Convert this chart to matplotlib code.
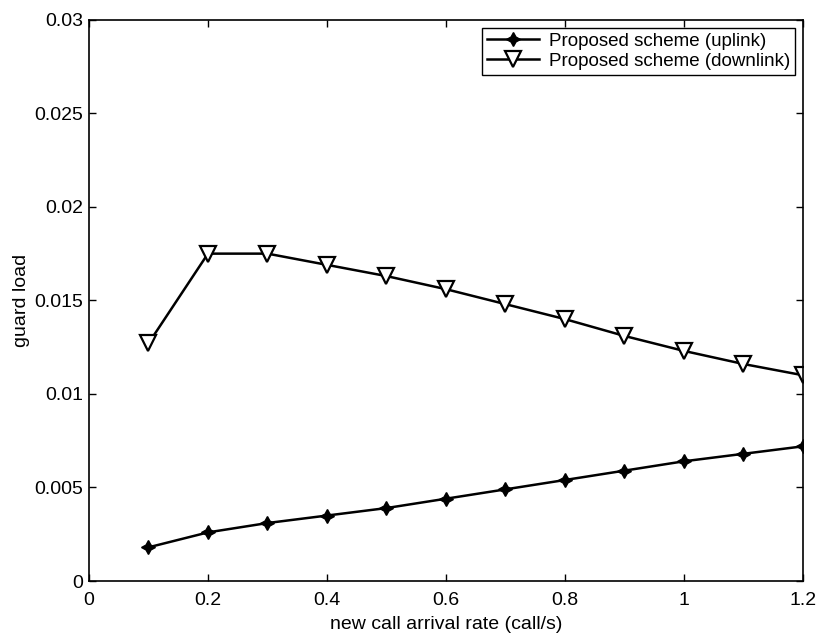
import matplotlib
matplotlib.use("Agg")
import matplotlib.pyplot as plt

rate = [0.1, 0.2, 0.3, 0.4, 0.5, 0.6, 0.7, 0.8, 0.9, 1.0, 1.1, 1.2]
uplink = [0.0018, 0.0026, 0.0031, 0.0035, 0.0039, 0.0044, 0.0049, 0.0054, 0.0059, 0.0064, 0.0068, 0.0072]
downlink = [0.0127, 0.0175, 0.0175, 0.0169, 0.0163, 0.0156, 0.0148, 0.0140, 0.0131, 0.0123, 0.0116, 0.0110]

xticks = [0, 0.2, 0.4, 0.6, 0.8, 1.0, 1.2]
xticklabels = ["0", "0.2", "0.4", "0.6", "0.8", "1", "1.2"]
yticks = [0, 0.005, 0.01, 0.015, 0.02, 0.025, 0.03]
yticklabels = ["0", "0.005", "0.01", "0.015", "0.02", "0.025", "0.03"]

plt.rcParams['font.family'] = ['Liberation Sans', 'DejaVu Sans']

fig = plt.figure(figsize=(8.16, 6.38), dpi=100)
ax = fig.add_axes([0.109, 0.0893, 0.875, 0.8797])

ax.plot(rate, uplink, color='black', lw=1.8, marker=(4, 1, 0), ms=10,
        mfc='black', mec='black', label='Proposed scheme (uplink)')
ax.plot(rate, downlink, color='black', lw=1.8, marker='v', ms=11,
        mfc='white', mec='black', mew=1.6, label='Proposed scheme (downlink)')

ax.set_xlim(0, 1.2)
ax.set_ylim(0, 0.03)
ax.set_xticks(xticks)
ax.set_xticklabels(xticklabels)
ax.set_yticks(yticks)
ax.set_yticklabels(yticklabels)
ax.tick_params(direction='in', length=5, width=1, top=True, right=True,
               labelsize=14, pad=4)
ax.tick_params(axis='x', pad=8)
for s in ax.spines.values():
    s.set_linewidth(1.2)

ax.set_xlabel('new call arrival rate (call/s)', fontsize=14, labelpad=5)
ax.set_ylabel('guard load', fontsize=14, labelpad=3)

leg = ax.legend(loc='upper right', fontsize=13.5, fancybox=False, framealpha=1,
                edgecolor='black', borderaxespad=0.45, handlelength=2.8,
                handletextpad=0.5, borderpad=0.25, labelspacing=0.15)
leg.get_frame().set_linewidth(1.0)

fig.savefig('out.png', dpi=100)
